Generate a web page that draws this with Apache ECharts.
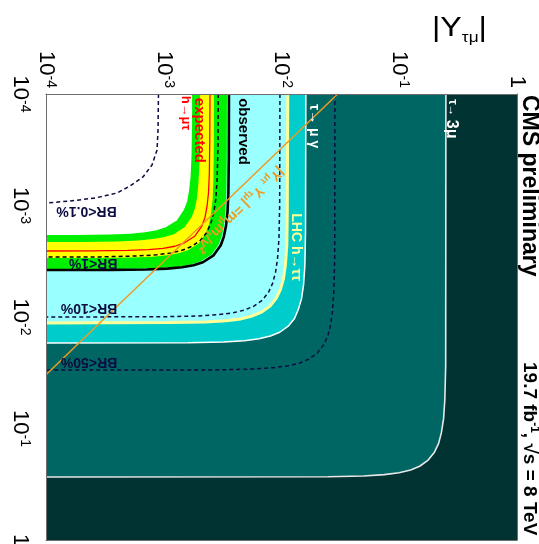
<!DOCTYPE html>
<html>
<head>
<meta charset="utf-8">
<title>LFV Higgs Yukawa couplings</title>
<script src="https://cdn.jsdelivr.net/npm/echarts@6.0.0/dist/echarts.min.js"></script>
<style>
html,body{margin:0;padding:0;background:#ffffff;}
#chart{width:539px;height:544px;}
</style>
</head>
<body>
<div id="chart"></div>
<script>
// ---------- tick labels ----------
const xTickValues = [1e-4, 1e-3, 1e-2, 1e-1, 1];
const xTickLabels = ['{b|10}{s|-4}', '{b|10}{s|-3}', '{b|10}{s|-2}', '{b|10}{s|-1}', '{b|1}'];
const yTickValues = [1e-4, 1e-3, 1e-2, 1e-1, 1];
const yTickLabels = ['{b|10}{s|-4}', '{b|10}{s|-3}', '{b|10}{s|-2}', '{b|10}{s|-1}', '{b|1}'];

// ---------- curves: points [|Y_tau mu|, |Y_mu tau|] ----------
const tau3mu = [[0.249,1e-4],[0.248,0.0272],[0.244,0.0544],[0.238,0.0816],[0.228,0.109],[0.216,0.136],[0.199,0.163],[0.176,0.192],[0.149,0.218],[0.125,0.236],[0.0996,0.249],[0.0747,0.259],[0.0498,0.267],[0.0249,0.271],[1e-4,0.272]];
const br50 = [[0.0284,1e-4],[0.0283,0.00299],[0.0278,0.00598],[0.0271,0.00897],[0.026,0.012],[0.0246,0.015],[0.0227,0.0179],[0.0201,0.0211],[0.017,0.0239],[0.0142,0.0259],[0.0114,0.0274],[0.00852,0.0285],[0.00568,0.0293],[0.00284,0.0298],[1e-4,0.0299]];
const tauMuGamma = [[0.0161,1e-4],[0.016,0.00171],[0.0158,0.00342],[0.0154,0.00513],[0.0148,0.00684],[0.0139,0.00855],[0.0129,0.0103],[0.0114,0.0121],[0.00966,0.0137],[0.00805,0.0148],[0.00644,0.0157],[0.00483,0.0163],[0.00322,0.0168],[0.00161,0.017],[1e-4,0.0171]];
const lhcTauTau = [[0.0113,1e-4],[0.0112,0.00113],[0.0111,0.00226],[0.0108,0.00339],[0.0104,0.00452],[0.00979,0.00565],[0.00904,0.00678],[0.00799,0.00799],[0.00678,0.00904],[0.00565,0.00979],[0.00452,0.0104],[0.00339,0.0108],[0.00226,0.0111],[0.00113,0.0112],[1e-4,0.0113]];
const br10 = [[0.0097,1e-4],[0.00965,0.001],[0.00951,0.002],[0.00925,0.003],[0.00889,0.004],[0.0084,0.005],[0.00776,0.006],[0.00686,0.00707],[0.00582,0.008],[0.00485,0.00866],[0.00388,0.00917],[0.00291,0.00954],[0.00194,0.0098],[0.00097,0.00995],[1e-4,0.01]];
const observed = [[0.00358,1e-4],[0.00357,0.000379],[0.00354,0.000758],[0.00348,0.00114],[0.00338,0.00152],[0.00324,0.0019],[0.00305,0.00227],[0.00265,0.0028],[0.00215,0.00323],[0.00179,0.00343],[0.00143,0.00358],[0.00107,0.00368],[0.000716,0.00375],[0.000358,0.00378],[1e-4,0.00379]];
const expPlus2 = [[0.00344,1e-4],[0.00343,0.000372],[0.0034,0.000744],[0.00334,0.00112],[0.00325,0.00149],[0.00312,0.00186],[0.00293,0.00223],[0.00255,0.00275],[0.00206,0.00317],[0.00172,0.00337],[0.00138,0.00352],[0.00103,0.00362],[0.000688,0.00368],[0.000344,0.00371],[1e-4,0.00372]];
const expPlus1 = [[0.00267,1e-4],[0.00266,0.000296],[0.00264,0.000592],[0.0026,0.000888],[0.00252,0.00118],[0.00242,0.00148],[0.00227,0.00178],[0.00198,0.00219],[0.0016,0.00252],[0.00134,0.00268],[0.00107,0.0028],[0.000801,0.00288],[0.000534,0.00293],[0.000267,0.00295],[1e-4,0.00296]];
const br1 = [[0.0029,1e-4],[0.00289,0.00029],[0.00284,0.00058],[0.00277,0.00087],[0.00266,0.00116],[0.00251,0.00145],[0.00232,0.00174],[0.00205,0.00205],[0.00174,0.00232],[0.00145,0.00251],[0.00116,0.00266],[0.00087,0.00277],[0.00058,0.00284],[0.00029,0.00289],[1e-4,0.0029]];
const expected = [[0.00247,1e-4],[0.00246,0.000256],[0.00244,0.000512],[0.0024,0.000768],[0.00233,0.00102],[0.00224,0.00128],[0.0021,0.00154],[0.00183,0.00189],[0.00148,0.00218],[0.00124,0.00232],[0.000988,0.00242],[0.000741,0.00249],[0.000494,0.00253],[0.000247,0.00255],[1e-4,0.00256]];
const expMinus1 = [[0.00203,1e-4],[0.00203,0.000212],[0.00201,0.000424],[0.00197,0.000636],[0.00192,0.000848],[0.00184,0.00106],[0.00173,0.00127],[0.0015,0.00157],[0.00122,0.00181],[0.00102,0.00192],[0.000812,0.002],[0.000609,0.00206],[0.000406,0.0021],[0.000203,0.00212],[1e-4,0.00212]];
const expMinus2 = [[0.00174,1e-4],[0.00174,0.000184],[0.00172,0.000368],[0.00169,0.000552],[0.00164,0.000736],[0.00158,0.00092],[0.00148,0.0011],[0.00129,0.00136],[0.00104,0.00157],[0.00087,0.00167],[0.000696,0.00174],[0.000522,0.00179],[0.000348,0.00182],[0.000174,0.00184],[1e-4,0.00184]];
const br01 = [[0.000902,1e-4],[0.000894,0.00021],[0.000877,0.000318],[0.000795,0.000433],[0.000666,0.000555],[0.000517,0.000668],[0.000401,0.000773],[0.000261,0.000857],[0.00016,0.000911],[1e-4,0.00095]];
const naturalness = [[1e-4,0.033],[0.030,1e-4]];

// ---------- styling / layout (not data) ----------
const FONT = "'Liberation Sans', Arial, Helvetica, sans-serif";
const AX_MIN = 1e-4, AX_MAX = 1;
const C = {
  dark:'#013333', teal:'#006663', cyan:'#00cccc', lightCyan:'#99ffff',
  green:'#00f000', yellow:'#ffff00', white:'#ffffff', navy:'#0c0c40',
  orange:'#f09a22', lhc:'#ffff99'
};

const notes = [
  {text:'observed', at:[0.00475,0.000217], rot:-90, color:'#000000', size:15},
  {text:'expected', at:[0.00199,0.000212], rot:-90, color:'#ff0000', size:15},
  {text:'h→μτ', at:[0.00153,0.000148], rot:-90, color:'#ff0000', size:13},
  {text:'τ→ μ γ', at:[0.0187,0.000194], rot:-90, color:'#ffffff', size:14},
  {text:'LHC h→ττ', at:[0.0133,0.00236], rot:-90, color:C.lhc, size:14},
  {text:'{s|τ→ }{b|3μ}', at:[0.28,0.000167], rot:-90, color:'#ffffff', size:15,
   rich:{s:{fontSize:12, fontWeight:'bold', fontFamily:FONT, fill:'#ffffff'},
         b:{fontSize:16, fontWeight:'bold', fontFamily:FONT, fill:'#ffffff'}}},
  {text:'BR<0.1%', at:[0.000221,0.00112], rot:180, color:C.navy, size:14},
  {text:'BR<1%', at:[0.000251,0.00328], rot:180, color:C.navy, size:14},
  {text:'BR<10%', at:[0.000232,0.0083], rot:180, color:C.navy, size:14},
  {text:'BR<50%', at:[0.000232,0.02535], rot:180, color:C.navy, size:14},
  {text:'{a||Y}{b|μτ}{a| Y}{b|τμ}{a|| =m}{b|μ}{a|m}{b|τ}{a|/v}{c|2}', at:[0.0044,0.00108], rot:-136.5, color:C.orange, size:14,
   rich:{a:{fontSize:14, fontWeight:'bold', fontFamily:FONT, fill:C.orange, lineHeight:18},
         b:{fontSize:10, fontWeight:'bold', fontFamily:FONT, fill:C.orange, lineHeight:10, verticalAlign:'bottom'},
         c:{fontSize:10, fontWeight:'bold', fontFamily:FONT, fill:C.orange, lineHeight:10, verticalAlign:'top'}}}
];

function tickFormatter(values, labels) {
  return function (v) {
    for (let i = 0; i < values.length; i++) {
      if (Math.abs(Math.log10(values[i]) - Math.log10(v)) < 0.01) return labels[i];
    }
    return '';
  };
}
const tickRich = {
  b:{fontFamily:FONT, fontSize:22, color:'#000', lineHeight:24},
  s:{fontFamily:FONT, fontSize:14, color:'#000', lineHeight:14, verticalAlign:'top'}
};

function fillSeries(points, color, z) {
  return {
    type:'custom', xAxisIndex:0, yAxisIndex:0, clip:true, silent:true, z:z, animation:false,
    data:[points[0]],
    renderItem:function (params, api) {
      const pts = points.concat([[AX_MIN, AX_MIN]]).map(function (p) { return api.coord(p); });
      return {type:'polygon', shape:{points:pts}, style:{fill:color, stroke:null}};
    }
  };
}
function lineSeries(points, color, width, dash, z) {
  return {
    type:'line', xAxisIndex:0, yAxisIndex:0, data:points, showSymbol:false, symbol:'none',
    silent:true, animation:false, z:z, clip:true,
    lineStyle:{color:color, width:width, type:dash || 'solid', cap:'butt'}
  };
}

const chart = echarts.init(document.getElementById('chart'), null, {renderer:'canvas'});
const axisCommon = {
  type:'log', logBase:10, min:AX_MIN, max:AX_MAX, z:30,
  axisTick:{show:false}, minorTick:{show:false}, splitLine:{show:false}, minorSplitLine:{show:false},
  axisLine:{show:true, onZero:false, lineStyle:{color:'#6e6e6e', width:1}}
};

const option = {
  animation:false,
  backgroundColor:'#ffffff',
  grid:{left:46, top:94, width:471, height:446, show:true, backgroundColor:C.dark, borderWidth:0, containLabel:false, outerBoundsMode:'none'},
  xAxis:[
    Object.assign({}, axisCommon, {position:'top',
      axisLabel:{show:true, rotate:90, align:'right', verticalAlign:'middle', margin:6,
        formatter:tickFormatter(xTickValues, xTickLabels), rich:tickRich, showMinLabel:true, showMaxLabel:true, hideOverlap:false}}),
    Object.assign({}, axisCommon, {position:'bottom', axisLabel:{show:false}})
  ],
  yAxis:[
    Object.assign({}, axisCommon, {position:'left', inverse:true,
      axisLabel:{show:true, rotate:-90, align:'center', verticalAlign:'top', margin:14,
        formatter:tickFormatter(yTickValues, yTickLabels), rich:tickRich, showMinLabel:true, showMaxLabel:true, hideOverlap:false}}),
    Object.assign({}, axisCommon, {position:'right', inverse:true, axisLabel:{show:false}})
  ],
  graphic:[
    {type:'text', x:432, y:28, z:100, scaleX:1.15,
     style:{text:'{a||Y}{b|τμ}{a||}', align:'left', verticalAlign:'middle',
       rich:{a:{fontSize:28, fontFamily:FONT, fill:'#000', lineHeight:34},
             b:{fontSize:15, fontFamily:FONT, fill:'#000', lineHeight:15, verticalAlign:'bottom'}}}},
    {type:'text', x:529, y:95, rotation:-Math.PI/2, z:100,
     style:{text:'CMS preliminary', fontSize:23, fontWeight:'bold', fontFamily:FONT, fill:'#000', align:'left', verticalAlign:'middle'}},
    {type:'text', x:529, y:362, rotation:-Math.PI/2, z:100,
     style:{text:'{a|19.7 fb}{s|-1}{a|, √s = 8 TeV}', align:'left', verticalAlign:'middle',
       rich:{a:{fontSize:19, fontWeight:'bold', fontFamily:FONT, fill:'#000', lineHeight:23},
             s:{fontSize:12, fontWeight:'bold', fontFamily:FONT, fill:'#000', lineHeight:12, verticalAlign:'top'}}}}
  ],
  series:[
    fillSeries(tau3mu, C.teal, 1),
    fillSeries(tauMuGamma, C.cyan, 2),
    fillSeries(lhcTauTau, C.lightCyan, 3),
    fillSeries(expPlus2, C.green, 4),
    fillSeries(expPlus1, C.yellow, 5),
    fillSeries(expMinus1, C.green, 6),
    fillSeries(expMinus2, C.white, 7),
    lineSeries(tau3mu, '#e8e8e8', 1.6, 'solid', 10),
    lineSeries(br50, C.navy, 1.5, [4,3], 10),
    lineSeries(tauMuGamma, '#ffffff', 1.5, 'solid', 10),
    lineSeries(lhcTauTau, C.lhc, 3, 'solid', 10),
    lineSeries(br10, C.navy, 1.5, [4,3], 10),
    lineSeries(observed, '#000000', 2.6, 'solid', 11),
    lineSeries(br1, '#000000', 1.5, [4,3], 11),
    lineSeries(expected, '#ff0000', 1.3, 'solid', 11),
    lineSeries(br01, C.navy, 1.5, [4,3], 11),
    lineSeries(naturalness, C.orange, 1.5, 'solid', 12),
    {
      type:'custom', xAxisIndex:0, yAxisIndex:0, clip:false, silent:true, z:20, animation:false,
      data:notes.map(function (n) { return n.at; }),
      renderItem:function (params, api) {
        const n = notes[params.dataIndex];
        const p = api.coord(n.at);
        return {type:'text', x:p[0], y:p[1], rotation:n.rot * Math.PI / 180,
          style:{text:n.text, fill:n.color, fontSize:n.size, fontWeight:'bold', fontFamily:FONT,
                 align:'center', verticalAlign:'middle', rich:n.rich}};
      }
    }
  ]
};
chart.setOption(option);
</script>
</body>
</html>
